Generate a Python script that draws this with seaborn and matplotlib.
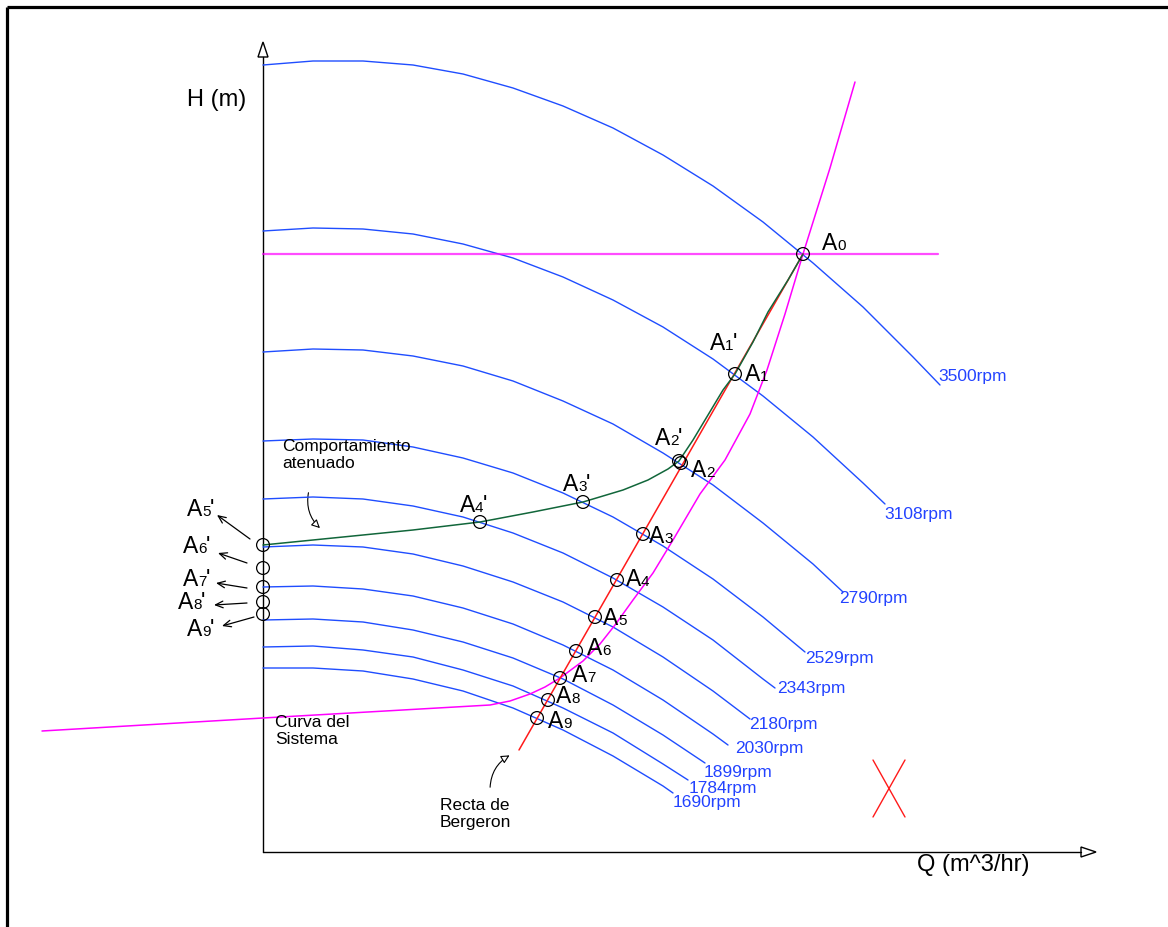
import matplotlib
matplotlib.use("Agg")
import numpy as np
import pandas as pd
import matplotlib.pyplot as plt
import seaborn as sns
from matplotlib.patches import FancyArrowPatch, Polygon

sns.set_theme(style="white")
plt.rcParams["font.family"] = ["Liberation Sans", "DejaVu Sans"]
plt.rcParams["text.color"] = "black"

# ---- pump characteristic curves H(Q) at each speed ----
q_3500 = [0, 50, 100, 150, 200, 250, 300, 350, 400, 450, 500, 550, 600, 650, 677]
h_3500 = [787, 791, 791, 787, 778, 764, 746, 724, 697, 666, 630, 589, 545, 495, 467]
q_3108 = [0, 50, 100, 150, 200, 250, 300, 350, 400, 450, 500, 550, 600, 622]
h_3108 = [621, 624, 623, 618, 608, 594, 575, 552, 525, 493, 456, 415, 369, 348]
q_2790 = [0, 50, 100, 150, 200, 250, 300, 350, 400, 450, 500, 550, 580]
h_2790 = [500, 503, 502, 496, 486, 471, 451, 428, 399, 367, 329, 288, 260]
q_2529 = [0, 50, 100, 150, 200, 250, 300, 350, 400, 450, 500, 542]
h_2529 = [411, 413, 412, 405, 394, 379, 359, 335, 306, 273, 235, 200]
q_2343 = [0, 50, 100, 150, 200, 250, 300, 350, 400, 450, 500, 512]
h_2343 = [353, 355, 353, 346, 335, 319, 299, 274, 245, 212, 173, 164]
q_2180 = [0, 50, 100, 150, 200, 250, 300, 350, 400, 450, 487]
h_2180 = [305, 307, 305, 298, 286, 270, 250, 225, 195, 161, 133]
q_2030 = [0, 50, 100, 150, 200, 250, 300, 350, 400, 450, 465]
h_2030 = [265, 266, 263, 256, 244, 228, 207, 182, 152, 118, 107]
q_1899 = [0, 50, 100, 150, 200, 250, 300, 350, 400, 442]
h_1899 = [232, 233, 230, 222, 210, 194, 173, 147, 117, 89]
q_1784 = [0, 50, 100, 150, 200, 250, 300, 350, 400, 425]
h_1784 = [205, 206, 202, 195, 182, 166, 144, 119, 88, 72]
q_1690 = [0, 50, 100, 150, 200, 250, 300, 350, 400, 410]
h_1690 = [184, 184, 181, 173, 161, 144, 122, 96, 66, 59]

speeds = [3500, 3108, 2790, 2529, 2343, 2180, 2030, 1899, 1784, 1690]
speed_labels = ["3500rpm", "3108rpm", "2790rpm", "2529rpm", "2343rpm",
                "2180rpm", "2030rpm", "1899rpm", "1784rpm", "1690rpm"]
pump_q = [q_3500, q_3108, q_2790, q_2529, q_2343, q_2180, q_2030, q_1899, q_1784, q_1690]
pump_h = [h_3500, h_3108, h_2790, h_2529, h_2343, h_2180, h_2030, h_1899, h_1784, h_1690]

# ---- system curve and static head line ----
q_system = [-221, 0, 227, 247, 267, 282, 297, 320, 337, 352, 370, 390, 410, 437,
            462, 487, 504, 522, 540, 567, 592]
h_system = [121, 134, 147, 151, 158, 165, 174, 191, 208, 227, 252, 279, 312, 358,
            392, 438, 482, 538, 598, 684, 770]
q_static = [0, 675]
h_static = [598, 598]

# ---- Bergeron line ----
q_bergeron = [256, 540]
h_bergeron = [102, 598]

# ---- attenuated behaviour (green) ----
q_atten = [0, 50, 100, 150, 217, 270, 320, 360, 385, 405, 416, 430, 445, 460, 472,
           490, 505, 525, 540]
h_atten = [307, 312, 317, 322, 330, 340, 350, 362, 372, 383, 391, 412, 437, 462, 478,
           510, 540, 572, 598]

# ---- marked states ----
pt_names = ["A0", "A1", "A2", "A3", "A4", "A5", "A6", "A7", "A8", "A9",
            "A2'", "A3'", "A4'", "A5'", "A6'", "A7'", "A8'", "A9'"]
pt_q = [540, 472, 418, 380, 354, 332, 313, 297, 285, 274,
        416, 320, 217, 0, 0, 0, 0, 0]
pt_h = [598, 478, 389, 318, 272, 235, 201, 174, 152, 134,
        391, 350, 330, 307, 284, 265, 250, 238]

BLUE = "#1f4dff"
BLUE_TXT = "#2343ff"
MAGENTA = "#ff00ff"
RED = "#ff1a1a"
GREEN = "#11663a"

fig = plt.figure(figsize=(11.68, 9.27), dpi=100)
ax = fig.add_axes([0, 0, 1, 1])
ax.set_xlim(-263, 905)
ax.set_ylim(-75, 852)
ax.axis("off")

# frame
ax.plot([-256, 905], [845, 845], color="black", lw=2.3, solid_capstyle="butt", clip_on=False)
ax.plot([-256, -256], [845, -75], color="black", lw=2.3, solid_capstyle="butt", clip_on=False)

# axes with open arrow heads
ax.plot([0, 0], [0, 795], color="black", lw=1.0)
ax.plot([0, 818], [0, 0], color="black", lw=1.0)
ax.add_patch(Polygon([[-5, 795], [5, 795], [0, 810]], closed=True, fc="white", ec="black", lw=1.0))
ax.add_patch(Polygon([[818, -5], [818, 5], [833, 0]], closed=True, fc="white", ec="black", lw=1.0))
ax.text(-76, 752, "H (m)", fontsize=17, ha="left", va="center")
ax.text(654, -13, "Q (m^3/hr)", fontsize=17, ha="left", va="center")

# pump curves
pump_df = pd.DataFrame({
    "rpm": np.concatenate([[s] * len(q) for s, q in zip(speeds, pump_q)]),
    "Q": np.concatenate(pump_q),
    "H": np.concatenate(pump_h),
})
sns.lineplot(data=pump_df, x="Q", y="H", units="rpm", estimator=None, sort=False,
             color=BLUE, lw=1.0, ax=ax, legend=False)

# speed labels near the end of each curve (pixel offsets from end point)
label_off = [(-2, 9), (-1, -11), (-4, -7), (0, -6), (2, 0), (-1, -5), (7, -4),
             (-1, -9), (1, -8), (0, -10)]
for q, h, lab, (dx, dy) in zip(pump_q, pump_h, speed_labels, label_off):
    ax.annotate(lab, xy=(q[-1], h[-1]), xytext=(dx, dy), textcoords="offset pixels",
                fontsize=12.5, color=BLUE_TXT, ha="left", va="center")

# system curve, static head, Bergeron line, attenuated path
sns.lineplot(x=q_static, y=h_static, color=MAGENTA, lw=1.6, ax=ax, alpha=0.7)
sns.lineplot(x=q_system, y=h_system, color=MAGENTA, lw=1.1, ax=ax, sort=False)
sns.lineplot(x=q_bergeron, y=h_bergeron, color=RED, lw=1.1, ax=ax)
sns.lineplot(x=q_atten, y=h_atten, color=GREEN, lw=1.1, ax=ax, sort=False)

# state markers
sns.scatterplot(x=pt_q, y=pt_h, marker="o", s=85, facecolors="none",
                edgecolors="black", linewidths=0.9, ax=ax, zorder=5)

# state labels: (subscript, prime, dx, dy) offsets in pixels
label_specs = {
    "A0": ("0", "", 19, 4), "A1": ("1", "", 10, -7), "A2": ("2", "", 10, -14),
    "A3": ("3", "", 6, -9), "A4": ("4", "", 9, -6), "A5": ("5", "", 8, -8),
    "A6": ("6", "", 11, -4), "A7": ("7", "", 12, -4), "A8": ("8", "", 8, -3),
    "A9": ("9", "", 11, -10), "A2'": ("2", "'", -24, 16), "A3'": ("3", "'", -20, 11),
    "A4'": ("4", "'", -20, 10), "A5'": ("5", "'", -76, 29), "A6'": ("6", "'", -80, 15),
    "A7'": ("7", "'", -80, 1), "A8'": ("8", "'", -85, -7), "A9'": ("9", "'", -76, -22),
}


def state_label(q, h, digit, prime, dx, dy):
    ax.annotate("A", xy=(q, h), xytext=(dx, dy), textcoords="offset pixels",
                fontsize=16.5, ha="left", va="baseline")
    ax.annotate(digit, xy=(q, h), xytext=(dx + 15, dy), textcoords="offset pixels",
                fontsize=11, ha="left", va="baseline")
    if prime:
        ax.annotate(prime, xy=(q, h), xytext=(dx + 23, dy), textcoords="offset pixels",
                    fontsize=16.5, ha="left", va="baseline")


for name, q, h in zip(pt_names, pt_q, pt_h):
    d, p, dx, dy = label_specs[name]
    state_label(q, h, d, p, dx, dy)
# A1' shares the A1 marker
state_label(pt_q[1], pt_h[1], "1", "'", -25, 24)

# leader arrows from the axis states to their labels
arrow_tail = [(-13, 6), (-16, 5), (-16, -1), (-16, -1), (-9, -3)]
arrow_head = [(-46, 30), (-45, 15), (-47, 4), (-49, -3), (-41, -12)]
for k, (t, hd) in enumerate(zip(arrow_tail, arrow_head)):
    q0, h0 = pt_q[13 + k], pt_h[13 + k]
    ax.annotate("", xy=(q0 + hd[0], h0 + hd[1]), xytext=(q0 + t[0], h0 + t[1]),
                arrowprops=dict(arrowstyle="->,head_length=0.45,head_width=0.2",
                                color="black", lw=0.9, shrinkA=0, shrinkB=0))

# annotations
ax.text(19, 384, "Comportamiento\natenuado", fontsize=12.5, ha="left", va="baseline",
        linespacing=1.15)
ax.add_patch(FancyArrowPatch((46, 362), (59, 322), connectionstyle="arc3,rad=0.3",
                             arrowstyle="-|>,head_length=5,head_width=2.5",
                             fc="white", ec="black", lw=0.8, mutation_scale=1))
ax.text(12, 121, "Curva del\nSistema", fontsize=12.5, ha="left", va="center",
        linespacing=1.2)
ax.text(177, 38, "Recta de\nBergeron", fontsize=12.5, ha="left", va="center",
        linespacing=1.2)
ax.add_patch(FancyArrowPatch((227, 62), (249, 98), connectionstyle="arc3,rad=-0.3",
                             arrowstyle="-|>,head_length=5,head_width=2.5",
                             fc="white", ec="black", lw=0.8, mutation_scale=1))

# red cross mark
cross_q = [[610, 642], [642, 610]]
cross_h = [[92, 35], [92, 35]]
for cq, ch in zip(cross_q, cross_h):
    ax.plot(cq, ch, color=RED, lw=1.0)

fig.savefig("out.png", dpi=100)
